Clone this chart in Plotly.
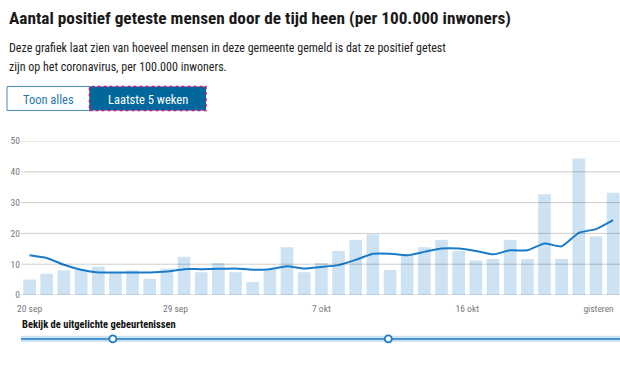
import plotly.graph_objects as go

# ---- data ----
days = list(range(35))  # 20 sep .. gisteren (24 okt)
cases = [5.0, 6.9, 8.0, 8.2, 9.2, 7.3, 8.0, 5.3, 8.6, 12.4, 7.4, 10.4, 7.4, 4.2, 8.2,
         15.5, 7.4, 10.4, 14.3, 17.9, 19.7, 8.1, 12.9, 15.5, 17.9, 14.3, 11.2, 11.7,
         17.9, 11.7, 32.7, 11.7, 44.3, 19.0, 33.2]
avg7 = [12.9, 12.0, 9.8, 8.2, 7.3, 7.3, 7.3, 7.3, 7.6, 8.4, 8.4, 8.5, 8.6, 8.2, 8.4,
        9.3, 8.6, 9.1, 9.7, 11.4, 13.4, 13.4, 12.9, 14.0, 15.1, 15.1, 14.3, 13.2,
        14.5, 14.5, 16.7, 15.8, 20.2, 21.4, 24.3]
x_tick_vals = [0, 8.5, 17, 25.5, 33.15]
x_tick_text = ["20 sep", "29 sep", "7 okt", "16 okt", "gisteren"]
y_tick_vals = [0, 10, 20, 30, 40, 50]
event_x = [4.85, 20.9]
event_y = [0, 0]

title = "Aantal positief geteste mensen door de tijd heen (per 100.000 inwoners)"
sub1 = "Deze grafiek laat zien van hoeveel mensen in deze gemeente gemeld is dat ze positief getest"
sub2 = "zijn op het coronavirus, per 100.000 inwoners."

# ---- geometry helpers (pixel -> paper) ----
W, H = 620, 365
L, R, T, B = 21, 0, 141, 20
def fx(px):
    return (px - L) / (W - L - R)
def fy(py):
    return (H - B - py) / (H - T - B)

FONT = "Roboto Condensed, Roboto, sans-serif"
BLUE = "#01689b"
LINE = "#1a7bc9"
BAR = "#cde3f3"

fig = go.Figure()
fig.add_bar(x=days, y=cases, marker_color=BAR, marker_line_width=0, width=0.74,
            hoverinfo="y")
fig.add_scatter(x=days, y=avg7, mode="lines",
                line=dict(color=LINE, width=2, shape="spline", smoothing=0.5))
fig.add_scatter(x=event_x, y=event_y, yaxis="y2", mode="markers", cliponaxis=False,
                marker=dict(size=7, color="white", line=dict(color=LINE, width=1.8)))

shapes = []
for v in y_tick_vals:
    shapes.append(dict(type="line", xref="x domain", x0=0, x1=1, yref="y", y0=v, y1=v,
                       line=dict(color="rgba(0,0,0,0.2)", width=1), layer="above"))
# timeline track
shapes.append(dict(type="rect", xref="x domain", x0=0, x1=1, yref="y2", y0=-0.5, y1=0.5,
                   fillcolor=BAR, line=dict(width=0), layer="below"))
shapes.append(dict(type="line", xref="x domain", x0=0, x1=1, yref="y2", y0=0, y1=0,
                   line=dict(color=LINE, width=1.5), layer="below"))
# buttons
shapes.append(dict(type="rect", xref="paper", yref="paper", x0=fx(7), x1=fx(90),
                   y0=fy(110.5), y1=fy(86.5), fillcolor="white",
                   line=dict(color="#4a8db7", width=1), layer="above"))
shapes.append(dict(type="rect", xref="paper", yref="paper", x0=fx(89.5), x1=fx(206),
                   y0=fy(110.5), y1=fy(86.5), fillcolor=BLUE,
                   line=dict(color="#c8127d", width=1.5, dash="dot"), layer="above"))

ann = []
ann.append(dict(text="<b>" + title + "</b>", x=fx(7), y=fy(18), xref="paper", yref="paper",
                xanchor="left", yanchor="middle", showarrow=False,
                font=dict(family=FONT, size=17.3, color="#1a1a1a")))
ann.append(dict(text=sub1, x=fx(7), y=fy(48), xref="paper", yref="paper",
                xanchor="left", yanchor="middle", showarrow=False,
                font=dict(family=FONT, size=12, color="#222")))
ann.append(dict(text=sub2, x=fx(7), y=fy(67), xref="paper", yref="paper",
                xanchor="left", yanchor="middle", showarrow=False,
                font=dict(family=FONT, size=12, color="#222")))
ann.append(dict(text="Toon alles", x=fx(48.5), y=fy(99), xref="paper", yref="paper",
                xanchor="center", yanchor="middle", showarrow=False,
                font=dict(family=FONT, size=12.5, color="#2a77a8")))
ann.append(dict(text="Laatste 5 weken", x=fx(148), y=fy(99), xref="paper", yref="paper",
                xanchor="center", yanchor="middle", showarrow=False,
                font=dict(family=FONT, size=12.5, color="white")))
ann.append(dict(text="<b>Bekijk de uitgelichte gebeurtenissen</b>", x=fx(20), y=fy(324),
                xref="paper", yref="paper", xanchor="left", yanchor="middle",
                showarrow=False, font=dict(family=FONT, size=10.5, color="#111")))

fig.update_layout(
    width=W, height=H, margin=dict(l=L, r=R, t=T, b=B),
    paper_bgcolor="white", plot_bgcolor="white",
    showlegend=False, bargap=0.26,
    font=dict(family=FONT),
    xaxis=dict(range=[-0.5, 34.4], tickvals=x_tick_vals, ticktext=x_tick_text,
               showgrid=False, zeroline=False, showline=False, ticks="",
               ticklabelstandoff=6,
               tickfont=dict(size=9.5, color="#777"), anchor="y", fixedrange=True),
    yaxis=dict(domain=[fy(295), 1], range=[0, 50], tickvals=y_tick_vals,
               showgrid=False, zeroline=False, showline=False, ticks="",
               tickfont=dict(size=9.5, color="#777"), fixedrange=True),
    yaxis2=dict(domain=[0, 0.06], range=[-1, 1], visible=False, anchor="x",
                fixedrange=True),
    shapes=shapes, annotations=ann,
)

fig.write_html("out.html", config={"displayModeBar": False},
               post_script="document.body.style.margin='0';document.body.style.padding='0';"
                           "document.body.style.overflow='hidden';")
